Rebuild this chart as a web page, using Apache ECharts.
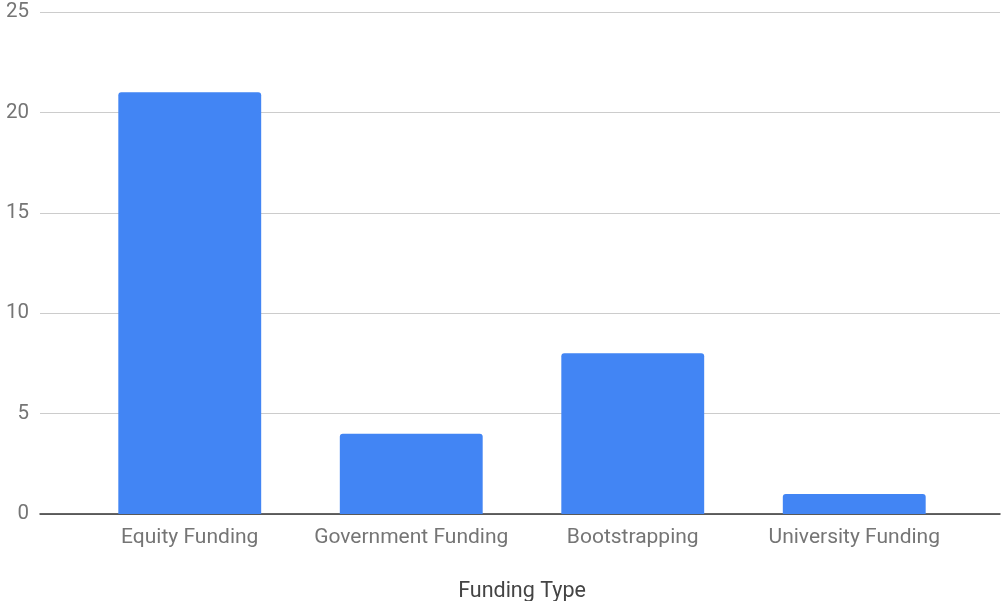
<!DOCTYPE html>
<html>
<head>
<meta charset="utf-8">
<script src="https://cdn.jsdelivr.net/npm/echarts@6/dist/echarts.min.js"></script>
<style>
html,body{margin:0;padding:0;background:#fff;}
#c{width:1002px;height:601px;}
</style>
</head>
<body>
<div id="c"></div>
<script>
var categories = ['Equity Funding', 'Government Funding', 'Bootstrapping', 'University Funding'];
var values = [21, 4, 8, 1];
var yTicks = [0, 5, 10, 15, 20, 25];

var chart = echarts.init(document.getElementById('c'), null, {renderer: 'canvas'});
var font = 'Roboto, "Noto Sans", sans-serif';
chart.setOption({
  animation: false,
  grid: [
    {left: 40, right: 2, top: 12, bottom: 87, outerBoundsMode: 'none', containLabel: false},
    {left: 79, right: 37, top: 12, bottom: 87, outerBoundsMode: 'none', containLabel: false}
  ],
  xAxis: [
    {gridIndex: 0, type: 'value', min: 0, max: 1, show: true,
     axisLine: {show: true, onZero: false, lineStyle: {color: '#333', width: 1.5}},
     axisTick: {show: false}, axisLabel: {show: false}, splitLine: {show: false}},
    {gridIndex: 1, type: 'category', data: categories,
     axisLine: {show: false}, axisTick: {show: false},
     axisLabel: {color: '#757575', fontSize: 21, fontFamily: font, margin: 13, interval: 0, hideOverlap: false},
     name: 'Funding Type', nameLocation: 'middle', nameGap: 67,
     nameTextStyle: {color: '#444', fontSize: 21.5, fontFamily: font}}
  ],
  yAxis: [
    {gridIndex: 0, type: 'value', min: yTicks[0], max: yTicks[yTicks.length-1], interval: 5,
     axisLine: {show: false}, axisTick: {show: false},
     axisLabel: {color: '#757575', fontSize: 20.5, fontFamily: font, margin: 11},
     splitLine: {lineStyle: {color: '#cccccc', width: 1}}},
    {gridIndex: 1, type: 'value', min: 0, max: 25, show: false, splitLine: {show: false}}
  ],
  series: [{
    type: 'bar', xAxisIndex: 1, yAxisIndex: 1, data: values,
    barWidth: '64.5%',
    itemStyle: {color: '#4285F4', borderRadius: [3, 3, 0, 0]},
    z: 1
  }]
});
</script>
</body>
</html>
